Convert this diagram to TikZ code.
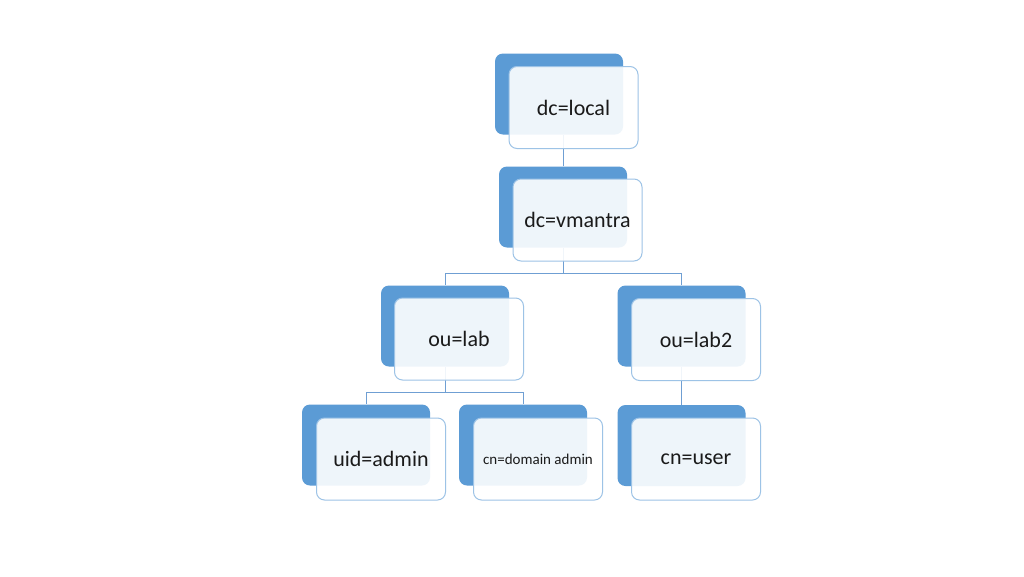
\documentclass[tikz,border=0pt]{standalone}
\usepackage{fontspec}
\setmainfont{Carlito}
\usetikzlibrary{backgrounds}
\definecolor{TileBlue}{HTML}{5B9BD5}
\definecolor{CardEdge}{HTML}{9DC3E6}
\definecolor{LinkBlue}{HTML}{6F9FD3}
\definecolor{Ink}{HTML}{1A1A1A}

\begin{document}
\begin{tikzpicture}[x=1pt,y=-1pt,
    tile/.style={fill=TileBlue,draw=none,rounded corners=8pt,
      minimum width=128pt,minimum height=81pt,inner sep=0pt},
    card/.style={fill=white,fill opacity=0.9,text opacity=1,draw=CardEdge,
      line width=1pt,rounded corners=8pt,minimum width=129pt,minimum height=82pt,
      inner sep=0pt,text=Ink,font=\fontsize{22}{26}\selectfont},
    link/.style={LinkBlue,line width=0.9pt}]
    \useasboundingbox (0,0) rectangle (1024,576);

    % back tiles
    \node[tile] (localbg) at (559,94) {};
    \node[tile] (vmantrabg) at (563,207) {};
    \node[tile] (labbg) at (445,326) {};
    \node[tile] (labtwobg) at (681.5,326) {};
    \node[tile] (adminbg) at (366,445) {};
    \node[tile] (domadminbg) at (523,445) {};
    \node[tile] (userbg) at (681.5,445.5) {};

    % front cards
    \node[card] (local) at (573.5,107.5) {dc=local};
    \node[card] (vmantra) at (577.5,220) {dc=vmantra};
    \node[card] (lab) at (459,339) {ou=lab};
    \node[card] (labtwo) at (696,339.5) {ou=lab2};
    \node[card] (admin) at (381,459) {uid=admin};
    \node[card,font=\fontsize{15}{18}\selectfont] (domadmin) at (538,459) {cn=domain admin};
    \node[card] (user) at (696,459) {cn=user};

    \coordinate (busone) at (0,273.5);
    \coordinate (bustwo) at (0,392);
    \begin{pgfonlayer}{background}
      \fill[white] (0,0) rectangle (1024,576);
      \draw[link] (vmantrabg.north) -- (vmantrabg.north |- localbg.south);
      \draw[link] (vmantrabg.south) |- (labbg.north |- busone) -- (labbg.north);
      \draw[link] (vmantrabg.south) |- (labtwobg.north |- busone) -- (labtwobg.north);
      \draw[link] (labbg.south) |- (adminbg.north |- bustwo) -- (adminbg.north);
      \draw[link] (labbg.south) |- (domadminbg.north |- bustwo) -- (domadminbg.north);
      \draw[link] (labtwobg.south) -- (userbg.north);
    \end{pgfonlayer}
  \end{tikzpicture}
\end{document}
